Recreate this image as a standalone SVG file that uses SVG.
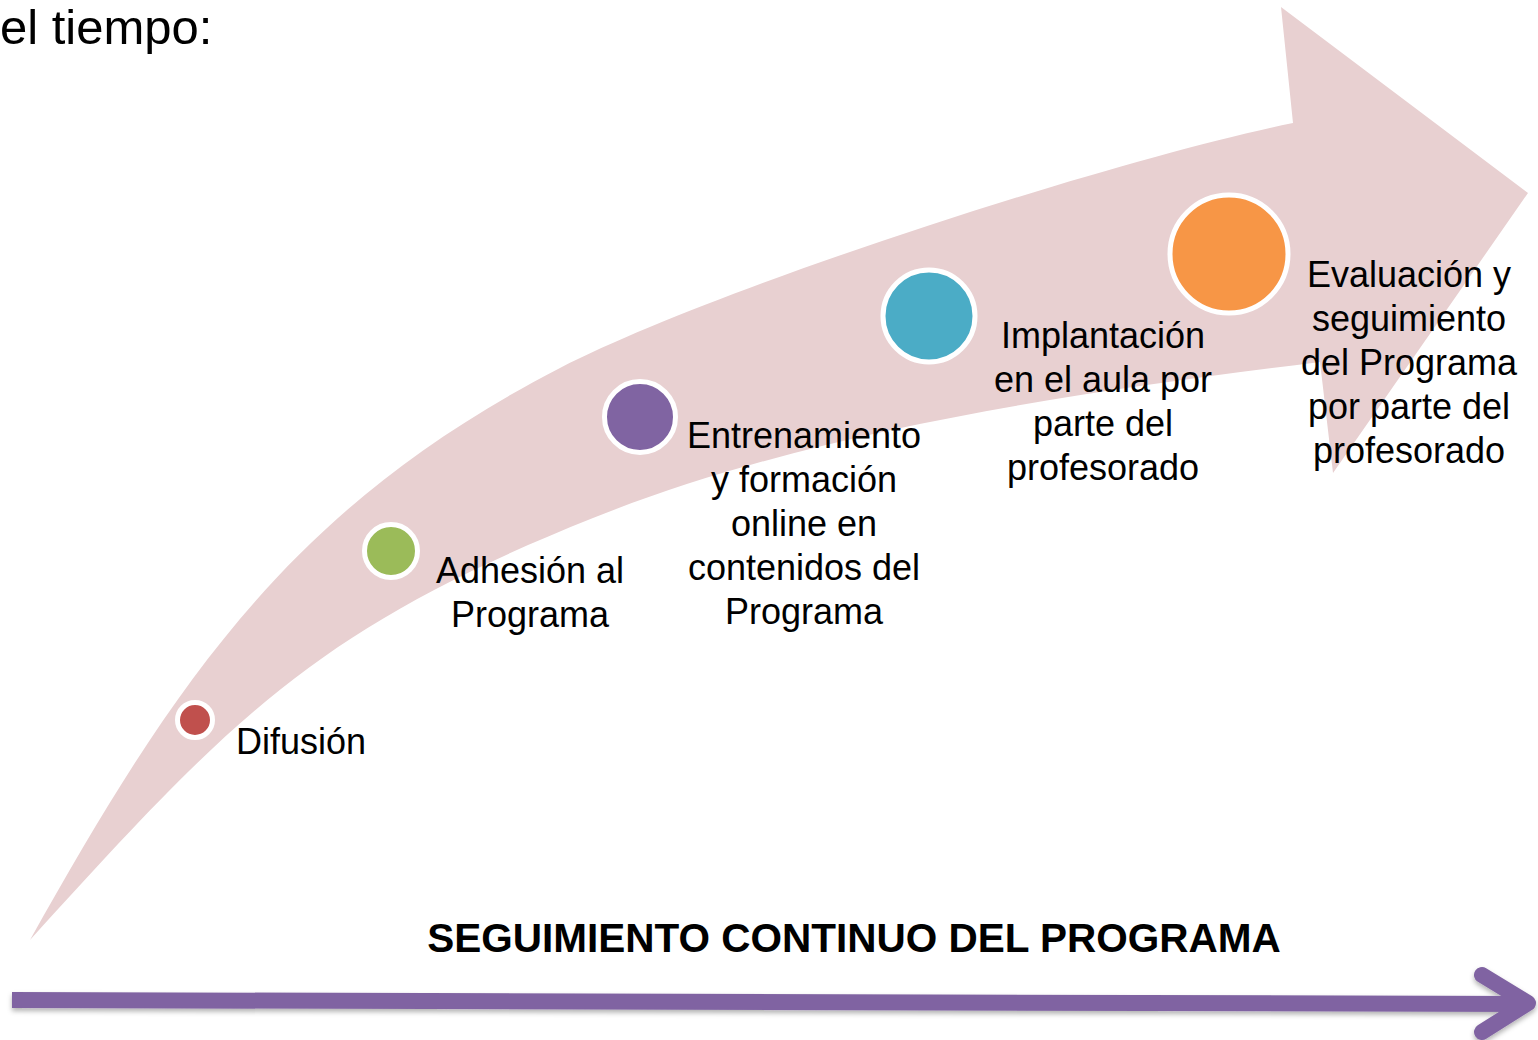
<svg xmlns="http://www.w3.org/2000/svg" width="1538" height="1040" viewBox="0 0 1538 1040">
  <style>
    .lbl { font-family: "Liberation Sans", Arial, sans-serif; font-size: 36px; fill: #000; }
    .mid { text-anchor: middle; }
    .title { font-family: "Liberation Sans", Arial, sans-serif; font-size: 40.5px; font-weight: bold; fill: #000; text-anchor: middle; }
    .dot { stroke: #FFFFFF; stroke-width: 5; }
  </style>
  <defs>
    <filter id="shadow" x="-5%" y="-50%" width="110%" height="200%">
      <feDropShadow dx="0" dy="3" stdDeviation="2.5" flood-color="#000" flood-opacity="0.3"/>
    </filter>
  </defs>
  <rect width="1538" height="1040" fill="#FFFFFF"/>

  <text class="lbl" x="0" y="44" style="font-size:49px">el tiempo:</text>

  <g id="curved-arrow">
    <path d="M30,940 C176.4,678.1 293.9,505 560,368 C719.7,286 1116.6,159 1293,123 L1281,7 L1528,193 L1333,473 L1320,362 C1082,391.8 815.7,429 593,518 C314.6,629.3 231.9,718 30,940 Z" fill="#E8D0D1"/>
  </g>

  <g id="node-difusion">
    <circle class="dot" cx="195" cy="720" r="17.5" fill="#C0504D"/>
    <text class="lbl" x="236" y="754">Difusión</text>
  </g>

  <g id="node-adhesion">
    <circle class="dot" cx="391" cy="551" r="26.5" fill="#9BBB59"/>
    <text class="lbl mid" x="530" y="583">Adhesión al</text>
    <text class="lbl mid" x="530" y="627">Programa</text>
  </g>

  <g id="node-entrenamiento">
    <circle class="dot" cx="640" cy="417" r="35.5" fill="#8064A2"/>
    <text class="lbl mid" x="804" y="448">Entrenamiento</text>
    <text class="lbl mid" x="804" y="492">y formación</text>
    <text class="lbl mid" x="804" y="536">online en</text>
    <text class="lbl mid" x="804" y="580">contenidos del</text>
    <text class="lbl mid" x="804" y="624">Programa</text>
  </g>

  <g id="node-implantacion">
    <circle class="dot" cx="929" cy="316" r="46" fill="#4BACC6"/>
    <text class="lbl mid" x="1103" y="348">Implantación</text>
    <text class="lbl mid" x="1103" y="392">en el aula por</text>
    <text class="lbl mid" x="1103" y="436">parte del</text>
    <text class="lbl mid" x="1103" y="480">profesorado</text>
  </g>

  <g id="node-evaluacion">
    <circle class="dot" cx="1229" cy="254" r="59" fill="#F79646"/>
    <text class="lbl mid" x="1409" y="287">Evaluación y</text>
    <text class="lbl mid" x="1409" y="331">seguimiento</text>
    <text class="lbl mid" x="1409" y="375">del Programa</text>
    <text class="lbl mid" x="1409" y="419">por parte del</text>
    <text class="lbl mid" x="1409" y="463">profesorado</text>
  </g>

  <text class="title" x="854" y="952">SEGUIMIENTO CONTINUO DEL PROGRAMA</text>

  <g id="connectors" filter="url(#shadow)">
    <path d="M12,1000 L1526,1004" stroke="#8064A2" stroke-width="16" fill="none"/>
    <path d="M1482,975 L1528,1003 L1482,1032" stroke="#8064A2" stroke-width="16" fill="none" stroke-linecap="round" stroke-linejoin="round"/>
  </g>
</svg>
